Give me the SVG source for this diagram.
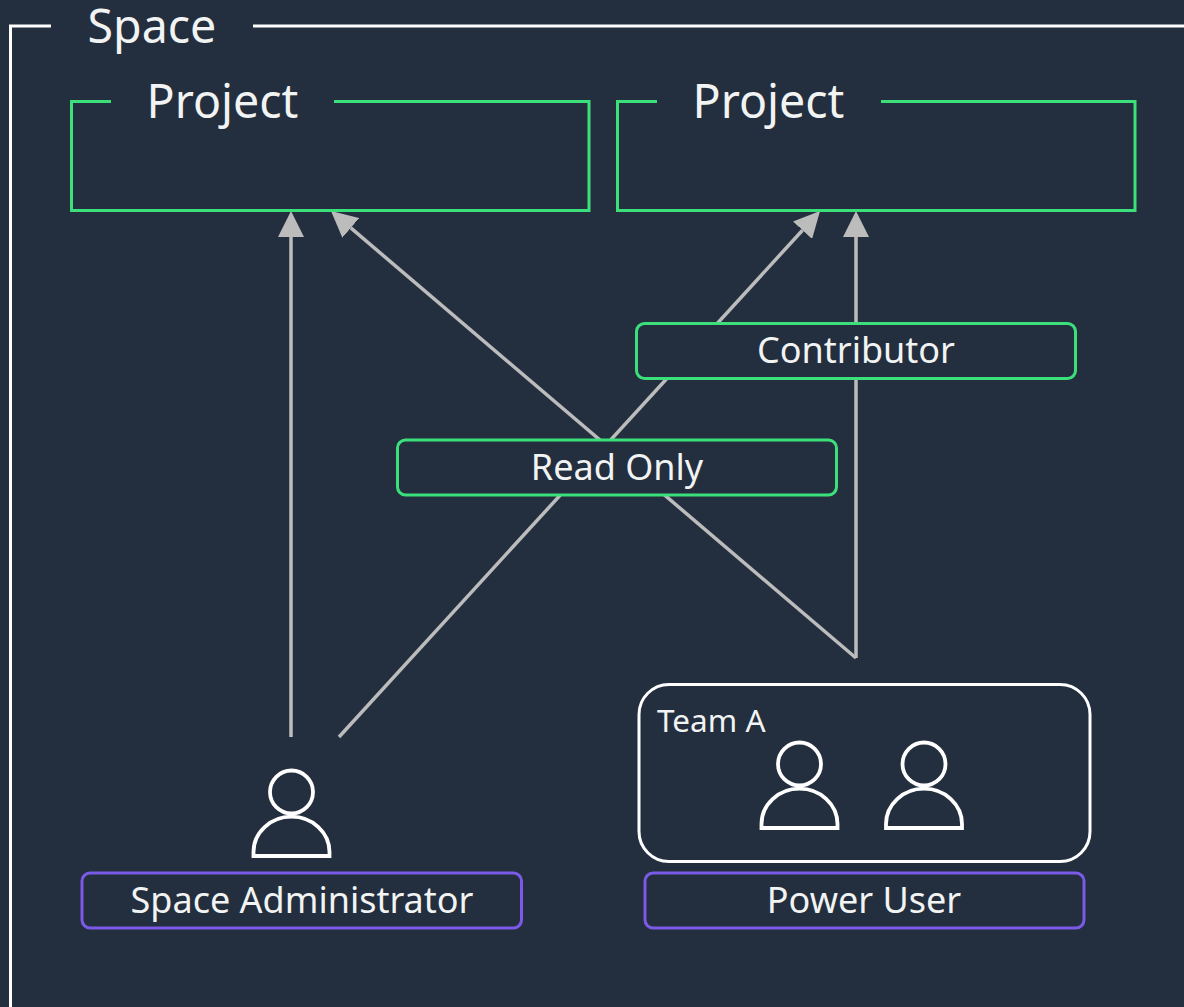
<svg xmlns="http://www.w3.org/2000/svg" width="1184" height="1007" viewBox="0 0 1184 1007">
<style>
text{font-family:"Noto Sans","Open Sans","Liberation Sans",sans-serif;fill:#f2f3f3}
.title{font-size:46.500px}
.label{font-size:36px;text-anchor:middle}
.team{font-size:31.500px}
.frame{fill:none;stroke-width:3}
.white{stroke:#fff}
.green{stroke:#3ce07a}
.role{fill:#232f3e;stroke-width:3}
.user{fill:#232f3e;stroke:#7a5ae6;stroke-width:3}
.conn{fill:none;stroke:#bcbcbc;stroke-width:3.5;marker-end:url(#arrow)}
.person{fill:none;stroke:#fff;stroke-width:3.800}
</style>
<defs>
<marker id="arrow" markerUnits="userSpaceOnUse" viewBox="0 -13 26 26" markerWidth="26" markerHeight="26" refX="0" refY="0" orient="auto"><path d="M0-13L26 0L0 13Z" fill="#bcbcbc"/></marker>
<g id="person"><circle cx="0" cy="0" r="21.500"/><path d="M-38 64V60A38 35.300 0 0 1 38 60V64Z"/></g>
</defs>
<rect width="1184" height="1007" fill="#232f3e"/>
<g id="connectors">
<path class="conn" d="M291 737V237"/>
<path class="conn" d="M856 658V237"/>
<path class="conn" d="M856 658L350.800 227.900"/>
<path class="conn" d="M339 737L802.500 230.200"/>
</g>
<g id="space">
<path class="frame white" d="M51 26H10.500V1007M253 26H1184"/>
<text class="title" x="87.500" y="43">Space</text>
</g>
<g id="project-1">
<path class="frame green" d="M111 101.500H71.500V210.500H589V101.500H334"/>
<text class="title" x="146.500" y="118">Project</text>
</g>
<g id="project-2">
<path class="frame green" d="M657 101.500H617.500V210.500H1135V101.500H881"/>
<text class="title" x="692.500" y="118">Project</text>
</g>
<g id="contributor">
<rect class="role green" x="636.500" y="323.500" width="439" height="55" rx="8"/>
<text class="label" x="856" y="363">Contributor</text>
</g>
<g id="read-only">
<rect class="role green" x="397.500" y="440" width="439" height="55" rx="8"/>
<text class="label" x="617" y="480">Read Only</text>
</g>
<g id="space-administrator">
<use href="#person" class="person" x="291.500" y="792"/>
<rect class="user" x="82" y="873" width="439.500" height="55" rx="8"/>
<text class="label" x="302" y="913">Space Administrator</text>
</g>
<g id="team-a">
<rect class="frame white" x="639" y="684.500" width="451" height="177" rx="30"/>
<text class="team" x="657" y="732">Team A</text>
<use href="#person" class="person" x="799.500" y="764"/>
<use href="#person" class="person" x="924" y="764"/>
</g>
<g id="power-user">
<rect class="user" x="645" y="873" width="439" height="55" rx="8"/>
<text class="label" x="864" y="913">Power User</text>
</g>
</svg>
